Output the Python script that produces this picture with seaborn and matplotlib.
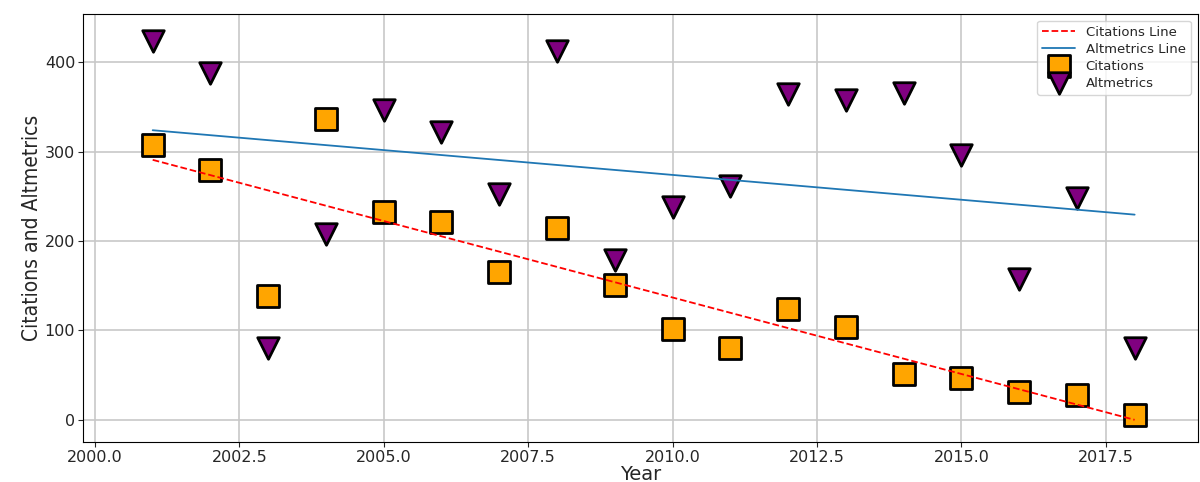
import numpy as np
import pandas as pd
import matplotlib
matplotlib.use('Agg')
import matplotlib.pyplot as plt
import seaborn as sns

# values
years = list(range(2001, 2019))
citations = [307, 279, 138, 337, 232, 221, 165, 214, 151, 101, 80, 124, 104, 51, 47, 31, 28, 5]
altmetrics = [424, 388, 80, 208, 346, 322, 252, 413, 179, 238, 261, 364, 358, 366, 296, 157, 248, 80]

df = pd.DataFrame({'Year': years, 'Citations': citations, 'Altmetrics': altmetrics})

# linear trend lines
c_fit = np.polyval(np.polyfit(df['Year'], df['Citations'], 1), df['Year'])
a_fit = np.polyval(np.polyfit(df['Year'], df['Altmetrics'], 1), df['Year'])

sns.set_style('ticks')
plt.rcParams['font.family'] = ['DejaVu Sans']

fig = plt.figure(figsize=(12, 4.82), dpi=100)
ax = fig.add_axes([0.069, 0.083, 0.929, 0.888])

sns.lineplot(x=df['Year'], y=c_fit, color='red', linestyle='--', linewidth=1.3,
             label='Citations Line', ax=ax, zorder=4)
sns.lineplot(x=df['Year'], y=a_fit, color='#1f77b4', linewidth=1.3,
             label='Altmetrics Line', ax=ax, zorder=4)
sns.scatterplot(data=df, x='Year', y='Citations', marker='s', s=240, color='orange',
                edgecolor='black', linewidth=2, label='Citations', ax=ax, zorder=3)
sns.scatterplot(data=df, x='Year', y='Altmetrics', marker='v', s=240, color='purple',
                edgecolor='black', linewidth=2, label='Altmetrics', ax=ax, zorder=3)

ax.set_xlim(1999.79, 2019.09)
ax.set_ylim(-25, 454)
ax.grid(True, color='#c8c8c8', linewidth=1.2)
ax.set_axisbelow(True)
ax.tick_params(labelsize=11.5, pad=2)
ax.set_xlabel('Year', fontsize=14, labelpad=0)
ax.set_ylabel('Citations and Altmetrics', fontsize=15, fontstretch='condensed', labelpad=2)
for sp in ax.spines.values():
    sp.set_visible(True)
    sp.set_color('black')

ax.legend(loc='upper right', fontsize=9.5, borderpad=0.4, labelspacing=0.3, handlelength=2.5)

fig.savefig('out.png', dpi=100)
